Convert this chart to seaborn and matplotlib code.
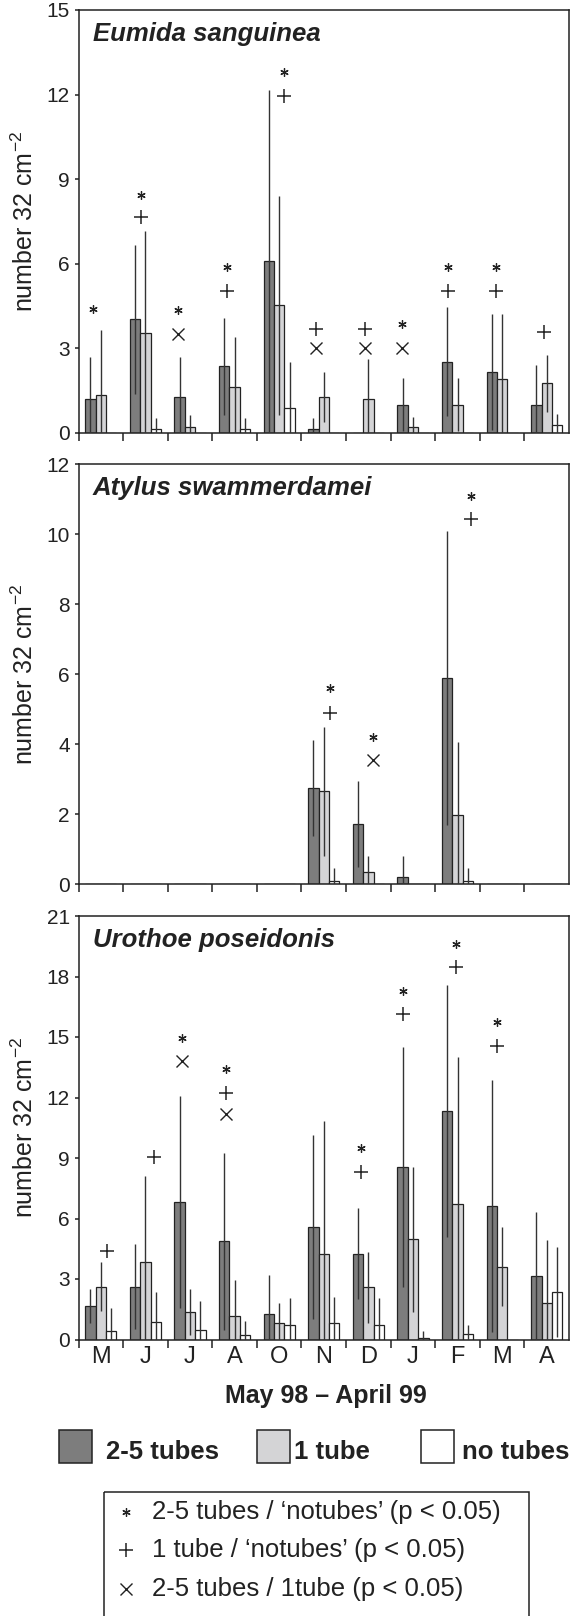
import numpy as np
import pandas as pd
import matplotlib
matplotlib.use("Agg")
import matplotlib.pyplot as plt
from matplotlib.patches import Rectangle
import seaborn as sns

# ---------------- data ----------------
MONTHS = ["May", "Jun", "Jul", "Aug", "Oct", "Nov", "Dec", "Jan", "Feb", "Mar", "Apr"]
MONTH_LETTERS = ["M", "J", "J", "A", "O", "N", "D", "J", "F", "M", "A"]
TUBES = ["2-5 tubes", "1 tube", "no tubes"]
TUBE_COLORS = ["#7d7d7d", "#d4d4d6", "#ffffff"]

# Eumida sanguinea
eum_dark = [1.19, 4.03, 1.27, 2.37, 6.11, 0.14, 0.0, 1.01, 2.53, 2.16, 1.01]
eum_dark_sd = [1.50, 2.63, 1.42, 1.72, 6.07, 0.39, 0.0, 0.95, 1.94, 2.05, 1.39]
eum_light = [1.33, 3.53, 0.20, 1.64, 4.53, 1.27, 1.19, 0.20, 1.01, 1.90, 1.76]
eum_light_sd = [2.31, 3.64, 0.43, 1.77, 3.89, 0.89, 1.45, 0.37, 0.95, 2.31, 1.00]
eum_white = [0.0, 0.14, 0.0, 0.14, 0.89, 0.0, 0.0, 0.0, 0.0, 0.0, 0.27]
eum_white_sd = [0.0, 0.39, 0.0, 0.39, 1.64, 0.0, 0.0, 0.0, 0.0, 0.0, 0.42]

# Atylus swammerdamei
aty_dark = [0, 0, 0, 0, 0, 2.74, 1.72, 0.20, 5.89, 0, 0]
aty_dark_sd = [0, 0, 0, 0, 0, 1.38, 1.23, 0.61, 4.19, 0, 0]
aty_light = [0, 0, 0, 0, 0, 2.65, 0.34, 0, 1.98, 0, 0]
aty_light_sd = [0, 0, 0, 0, 0, 1.84, 0.47, 0, 2.08, 0, 0]
aty_white = [0, 0, 0, 0, 0, 0.10, 0, 0, 0.10, 0, 0]
aty_white_sd = [0, 0, 0, 0, 0, 0.36, 0, 0, 0.36, 0, 0]

# Urothoe poseidonis
uro_dark = [1.66, 2.61, 6.81, 4.87, 1.26, 5.57, 4.26, 8.55, 11.34, 6.61, 3.15]
uro_dark_sd = [0.85, 2.11, 5.24, 4.40, 1.96, 4.56, 2.27, 5.97, 6.25, 6.25, 3.15]
uro_light = [2.62, 3.85, 1.36, 1.19, 0.81, 4.26, 2.59, 4.96, 6.73, 3.60, 1.83]
uro_light_sd = [1.22, 4.27, 1.14, 1.74, 1.00, 6.58, 1.75, 3.59, 7.26, 1.96, 3.08]
uro_white = [0.44, 0.85, 0.48, 0.23, 0.73, 0.81, 0.73, 0.07, 0.26, 0.0, 2.35]
uro_white_sd = [1.12, 1.50, 1.41, 0.70, 1.33, 1.28, 1.33, 0.33, 0.45, 0.0, 2.22]

# significance symbols: (month index, [(symbol, height)])
eum_sig = [(0, [("*", 4.39)]), (1, [("*", 8.44), ("+", 7.65)]),
           (2, [("*", 4.35), ("x", 3.5)]), (3, [("*", 5.87), ("+", 5.02)]),
           (4, [("*", 12.8), ("+", 11.95)]), (5, [("+", 3.70), ("x", 3.0)]),
           (6, [("+", 3.68), ("x", 3.0)]), (7, [("*", 3.88), ("x", 3.0)]),
           (8, [("*", 5.89), ("+", 5.02)]), (9, [("*", 5.89), ("+", 5.02)]),
           (10, [("+", 3.58)])]
aty_sig = [(5, [("*", 5.6), ("+", 4.9)]), (6, [("*", 4.19), ("x", 3.53)]),
           (8, [("*", 11.1), ("+", 10.43)])]
uro_sig = [(0, [("+", 4.41)]), (1, [("+", 9.07)]),
           (2, [("*", 14.96), ("x", 13.82)]),
           (3, [("*", 13.41), ("+", 12.22), ("x", 11.17)]),
           (6, [("*", 9.51), ("+", 8.32)]), (7, [("*", 17.3), ("+", 16.14)]),
           (8, [("*", 19.63), ("+", 18.47)]), (9, [("*", 15.76), ("+", 14.54)])]

SIG_LABELS = ["2-5 tubes / \u2018notubes\u2019 (p < 0.05)",
              "1 tube / \u2018notubes\u2019 (p < 0.05)",
              "2-5 tubes / 1tube (p < 0.05)"]

# ---------------- layout / style (not data) ----------------
sig_dx = {
    "eum": [-0.18, -0.09, -0.26, -0.16, 0.10, -0.18, -0.07, -0.25, -0.21, -0.13, -0.06],
    "aty": [0.14, 0.11, 0.31],
    "uro": [0.15, 0.19, -0.18, -0.20, -0.17, -0.22, -0.04, -0.11],
}

sns.set_style("white")
plt.rcParams["font.family"] = ["Liberation Sans", "DejaVu Sans"]
plt.rcParams["mathtext.fontset"] = "custom"
plt.rcParams["mathtext.rm"] = "Liberation Sans"
plt.rcParams["mathtext.it"] = "Liberation Sans:italic"
plt.rcParams["mathtext.bf"] = "Liberation Sans:bold"

INK = "#222222"
W, H = 570, 1616
fig = plt.figure(figsize=(W / 100, H / 100), dpi=100)


def px_axes(left, right, top, bottom):
    return fig.add_axes([left / W, 1 - bottom / H, (right - left) / W, (bottom - top) / H])


MARKERS = {"*": dict(marker=(6, 2, 0), ms=6.0, mew=0.9),
           "+": dict(marker="+", ms=10.5, mew=1.1),
           "x": dict(marker="x", ms=8.5, mew=1.0)}


def panel(ax, name, means, sds, sig, dxs, ymax, ystep, show_labels):
    rows = []
    for tube, vals in zip(TUBES, means):
        for m, v in zip(MONTHS, vals):
            rows.append({"month": m, "tubes": tube, "value": v})
    df = pd.DataFrame(rows)
    sns.barplot(data=df, x="month", y="value", hue="tubes", order=MONTHS,
                hue_order=TUBES, palette=dict(zip(TUBES, TUBE_COLORS)),
                saturation=1, width=0.7, edgecolor=INK, linewidth=0.9,
                errorbar=None, legend=False, ax=ax, zorder=2)
    # error bars (SD) at bar centres
    for cont, vals, sd in zip(ax.containers, means, sds):
        for bar, v, s in zip(cont, vals, sd):
            if s > 0:
                xc = bar.get_x() + bar.get_width() / 2
                ax.vlines(xc, max(0, v - s), v + s, color="#333333", lw=1.0, zorder=3)
    # significance symbols
    for (k, items), dx in zip(sig, dxs):
        for sym, y in items:
            ax.plot([k + dx], [y], linestyle="none", color=INK, zorder=4,
                    clip_on=False, **MARKERS[sym])
    ax.set_xlim(-0.5, len(MONTHS) - 0.5)
    ax.set_ylim(0, ymax)
    ticks = np.arange(0, ymax + 0.01, ystep)
    ax.set_yticks(ticks)
    ax.set_yticklabels([f"{int(t)}" for t in ticks])
    ax.set_xticks(np.arange(-0.5, len(MONTHS) - 1, 1.0))
    ax.set_xticklabels([])
    ax.set_xticks(np.arange(len(MONTHS)), minor=True)
    if show_labels:
        ax.set_xticklabels(MONTH_LETTERS, minor=True, fontsize=17)
    else:
        ax.set_xticklabels([], minor=True)
    ax.tick_params(axis="x", which="major", direction="out", length=5.5, width=1.1,
                   color=INK, bottom=True)
    ax.tick_params(axis="x", which="minor", length=0, pad=4.5, labelcolor=INK)
    ax.tick_params(axis="y", direction="out", length=3.2, width=1.1, color=INK,
                   labelsize=15, pad=3.0, labelcolor=INK, left=True)
    for sp in ax.spines.values():
        sp.set_visible(True)
        sp.set_color(INK)
        sp.set_linewidth(1.1)
    ax.set_xlabel("")
    ax.set_ylabel("number 32 cm$^{\u22122}$", fontsize=18, color=INK)
    ax.yaxis.set_label_coords(-0.083, 0.5)
    ax.text(0.029, 1 - 31 / 423, name, transform=ax.transAxes, fontsize=18.5,
            fontweight="bold", fontstyle="italic", ha="left", va="baseline", color=INK)
    ax.grid(False)


ax1 = px_axes(78.5, 569, 10, 433)
ax2 = px_axes(78.5, 569, 464, 884)
ax3 = px_axes(78.5, 569, 916, 1339.5)

panel(ax1, "Eumida sanguinea", [eum_dark, eum_light, eum_white],
      [eum_dark_sd, eum_light_sd, eum_white_sd], eum_sig, sig_dx["eum"], 15, 3, False)
panel(ax2, "Atylus swammerdamei", [aty_dark, aty_light, aty_white],
      [aty_dark_sd, aty_light_sd, aty_white_sd], aty_sig, sig_dx["aty"], 12, 2, False)
panel(ax3, "Urothoe poseidonis", [uro_dark, uro_light, uro_white],
      [uro_dark_sd, uro_light_sd, uro_white_sd], uro_sig, sig_dx["uro"], 21, 3, True)

# ---------------- legends / labels (pixel overlay) ----------------
ov = fig.add_axes([0, 0, 1, 1], zorder=-1)
ov.set_xlim(0, W)
ov.set_ylim(H, 0)
ov.axis("off")

ov.text(326, 1403, "May 98 \u2013 April 99", ha="center", va="baseline",
        fontsize=18, fontweight="bold", color=INK)

patch_x = [59, 257, 421]
text_x = [106, 294, 462]
for px, tx, lab, col in zip(patch_x, text_x, TUBES, TUBE_COLORS):
    ov.add_patch(Rectangle((px, 1430), 33, 33, facecolor=col, edgecolor=INK, lw=1.1))
    ov.text(tx, 1459, lab, ha="left", va="baseline", fontsize=18.5,
            fontweight="bold", color=INK)

ov.add_patch(Rectangle((104, 1492), 425, 200, facecolor="none", edgecolor=INK,
                       lw=1.1, clip_on=True))
sig_syms = ["*", "+", "x"]
for i, (sym, lab) in enumerate(zip(sig_syms, SIG_LABELS)):
    yb = 1519 + 38.5 * i
    ov.plot([125.5], [yb - 7.5], linestyle="none", color=INK, **MARKERS[sym])
    ov.text(152, yb, lab, ha="left", va="baseline", fontsize=18.5, color=INK)

fig.savefig("out.png", dpi=100)
